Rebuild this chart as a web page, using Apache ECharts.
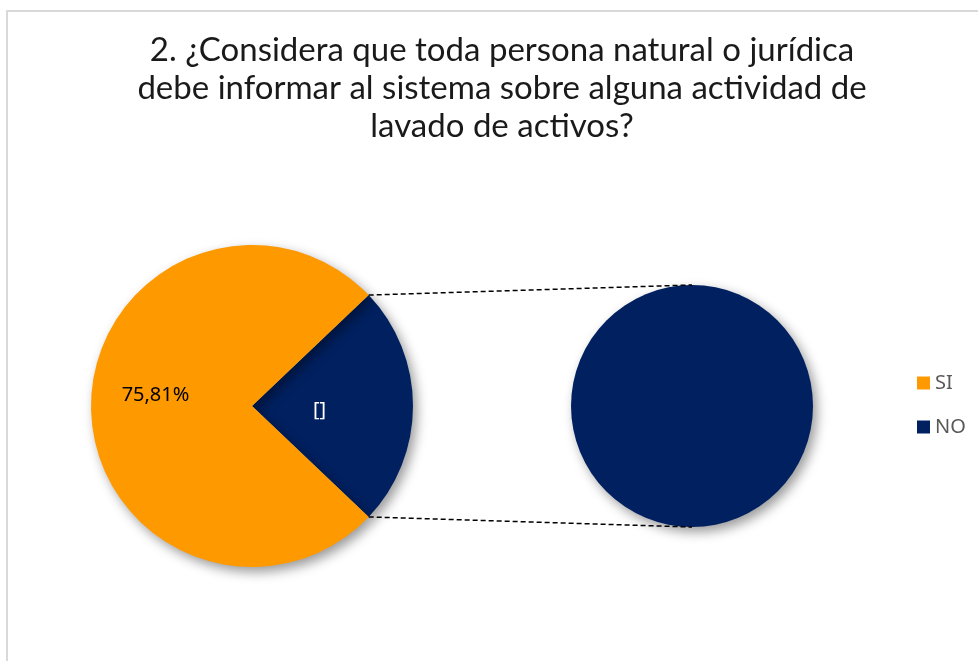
<!DOCTYPE html>
<html>
<head>
<meta charset="utf-8">
<script src="https://cdn.jsdelivr.net/npm/echarts@6/dist/echarts.min.js"></script>
<style>
  html, body { margin: 0; padding: 0; background: #fff; }
  #main { width: 978px; height: 661px; }
</style>
</head>
<body>
<div id="main"></div>
<script>
  var categories = ['SI', 'NO'];
  var percents = [75.81, 24.19];
  var sliceLabels = ['75,81%', '[]'];
  var colors = ['#FF9900', '#002060'];
  var titleText = '2. ¿Considera que toda persona natural o jurídica\ndebe informar al sistema sobre alguna actividad de\nlavado de activos?';

  var chart = echarts.init(document.getElementById('main'));

  // geometria de los dos pasteles
  var mainC = [252, 406], mainR = 161;
  var subC = [692, 406], subR = 121;
  var half = percents[1] / 100 * 360 / 2;   // mitad del sector "NO"
  var rad = half * Math.PI / 180;
  var ax = mainC[0] + mainR * Math.cos(rad);
  var ayTop = mainC[1] - mainR * Math.sin(rad);
  var ayBot = mainC[1] + mainR * Math.sin(rad);

  var shadow = {
    shadowBlur: 12,
    shadowOffsetX: 4,
    shadowOffsetY: 5,
    shadowColor: 'rgba(0,0,0,0.4)'
  };

  var mainData = [
    { name: categories[1], value: percents[1], itemStyle: Object.assign({ color: colors[1] }, shadow),
      label: { color: '#ffffff', formatter: sliceLabels[1], offset: [-16, 4] } },
    { name: categories[0], value: percents[0], itemStyle: Object.assign({ color: colors[0] }, shadow),
      label: { color: '#000000', formatter: sliceLabels[0], offset: [-13, -11] } }
  ];

  var option = {
    backgroundColor: '#ffffff',
    animation: false,
    title: {
      text: titleText,
      left: 497,
      top: 26,
      textAlign: 'center',
      textStyle: {
        fontFamily: 'Lato',
        fontWeight: 'normal',
        fontSize: 33,
        lineHeight: 38,
        color: '#1a1a1a'
      }
    },
    legend: {
      data: categories,
      orient: 'vertical',
      left: 912,
      top: 368,
      itemWidth: 13,
      itemHeight: 13,
      itemGap: 24,
      icon: 'rect',
      textStyle: { fontFamily: 'Noto Sans', fontSize: 20, color: '#595959' }
    },
    graphic: [
      { type: 'rect', shape: { x: 7, y: 11, width: 1000, height: 700 },
        style: { fill: 'none', stroke: '#d9d9d9', lineWidth: 2 }, silent: true, z: -1 },
      { type: 'line', shape: { x1: ax, y1: ayTop, x2: subC[0], y2: subC[1] - subR },
        style: { stroke: '#000', lineWidth: 1.5, lineDash: [5, 3] }, z: 10 },
      { type: 'line', shape: { x1: ax, y1: ayBot, x2: subC[0], y2: subC[1] + subR },
        style: { stroke: '#000', lineWidth: 1.5, lineDash: [5, 3] }, z: 10 }
    ],
    series: [
      {
        type: 'pie',
        center: mainC,
        radius: mainR,
        startAngle: half,
        clockwise: true,
        data: mainData,
        label: {
          show: true,
          position: 'inside',
          fontFamily: 'Noto Sans',
          fontSize: 20
        },
        labelLine: { show: false },
        emphasis: { scale: false }
      },
      {
        type: 'pie',
        center: subC,
        radius: subR,
        data: [{ name: categories[1], value: percents[1], itemStyle: Object.assign({ color: colors[1] }, shadow) }],
        label: { show: false },
        labelLine: { show: false },
        emphasis: { scale: false }
      }
    ]
  };

  chart.setOption(option);
</script>
</body>
</html>
